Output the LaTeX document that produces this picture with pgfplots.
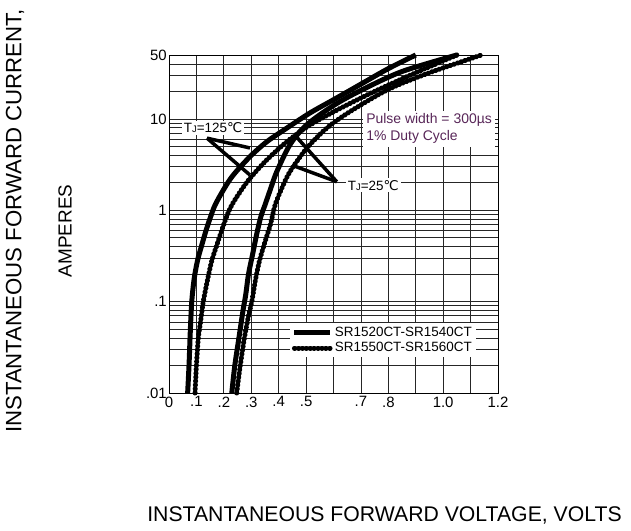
\documentclass[border=0pt]{standalone}
\usepackage{fontspec}
\setmainfont{Liberation Sans}
\newfontfamily\dejavu{DejaVu Sans}
\usepackage{pgfplots}
\pgfplotsset{compat=1.18}
\definecolor{pulsecol}{RGB}{88,38,88}
\newcommand{\degC}{{\dejavu ℃}}
\newcommand{\TJ}{T{\fontsize{9.5}{9.5}\selectfont J}}

\begin{document}
\begin{tikzpicture}
\path[use as bounding box] (0,0) rectangle (631bp,-531bp);
\begin{axis}[
  at={(169bp,-393bp)}, anchor=south west,
  scale only axis, width=329bp, height=338bp,
  xmin=0, xmax=1.2, ymin=0.01, ymax=50, ymode=log,
  clip=false,
  xtick={0,0.1,0.2,0.3,0.4,0.5,0.6,0.7,0.8,0.9,1.0,1.1,1.2},
  xticklabels={0,.1,.2,.3,.4,.5,,.7,.8,,1.0,,1.2},
  ytick={0.01,0.1,1,10,50},
  yticklabels={.01,.1,1,10,50},
  minor ytick={0.02,0.03,0.04,0.05,0.06,0.07,0.08,0.09,0.2,0.3,0.4,0.5,0.6,0.7,0.8,0.9,2,3,4,5,6,7,8,9,20,30,40},
  grid=both,
  major grid style={black!85, line width=0.7bp},
  minor grid style={black!85, line width=0.7bp},
  major tick length=0pt, minor tick length=0pt,
  axis line style={black, line width=0.8bp},
  tick label style={font=\fontsize{15}{15}\selectfont},
  xticklabel style={inner sep=1bp, yshift=-2.5bp},
  yticklabel style={inner sep=2bp},
  legend style={at={(axis description cs:0.367,0.207)}, anchor=north west,
    draw=none, fill=white, font=\fontsize{13.5}{13.5}\selectfont,
    inner sep=2bp, row sep=0.5bp,
    /tikz/every even column/.append style={column sep=3bp}},
  legend cell align=left,
  legend image code/.code={\draw[#1] (0bp,0bp) -- (36bp,0bp);},
]
% TJ = 125 C, SR1520CT-SR1540CT
\addplot[black, line width=5bp, line join=round, smooth] coordinates {
 (0.068,0.01) (0.073,0.02) (0.078,0.05) (0.083,0.1) (0.092,0.18) (0.105,0.29)
 (0.12,0.42) (0.135,0.6) (0.15,0.82) (0.168,1.14) (0.2,1.7) (0.233,2.4)
 (0.295,3.85) (0.356,5.6) (0.429,7.9) (0.514,11.6) (0.6,16.2) (0.7,24)
 (0.8,35.5) (0.9,50)};
\addlegendentry{SR1520CT-SR1540CT}
% TJ = 125 C, SR1550CT-SR1560CT
\addplot[black, line width=5bp, line cap=round, dash pattern=on 0.5bp off 3.4bp, smooth] coordinates {
 (0.095,0.01) (0.1,0.02) (0.107,0.04) (0.115,0.06) (0.125,0.1) (0.14,0.17)
 (0.156,0.28) (0.175,0.42) (0.192,0.6) (0.21,0.85) (0.229,1.14) (0.26,1.6)
 (0.295,2.23) (0.356,3.54) (0.429,5.6) (0.514,8.55) (0.624,13) (0.75,20)
 (0.9,32) (1.05,50)};
\addlegendentry{SR1550CT-SR1560CT}
% TJ = 25 C, SR1520CT-SR1540CT
\addplot[black, line width=5bp, line join=round, smooth] coordinates {
 (0.229,0.01) (0.24,0.02) (0.255,0.04) (0.27,0.08) (0.28,0.12) (0.29,0.2)
 (0.305,0.33) (0.32,0.55) (0.335,0.85) (0.35,1.14) (0.37,1.7) (0.393,2.64)
 (0.441,5.2) (0.5,8.5) (0.6,14) (0.7,20.5) (0.85,33) (1.05,50)};
% TJ = 25 C, SR1550CT-SR1560CT
\addplot[black, line width=5bp, line cap=round, dash pattern=on 0.5bp off 3.4bp, smooth] coordinates {
 (0.247,0.01) (0.26,0.02) (0.275,0.04) (0.29,0.07) (0.302,0.1) (0.315,0.17)
 (0.33,0.28) (0.35,0.45) (0.37,0.7) (0.387,1.14) (0.41,1.7) (0.441,2.64)
 (0.502,4.75) (0.575,7.9) (0.66,12) (0.8,21) (0.95,32) (1.14,50)};

% annotations
\node[fill=white, inner sep=1.5bp, font=\fontsize{13.5}{13.5}\selectfont]
  at (axis description cs:0.134,0.784) {\TJ=125\degC};
\draw[line width=3.5bp] (axis description cs:0.1155,0.754) -- (axis description cs:0.246,0.725);
\draw[line width=3.5bp] (axis description cs:0.1155,0.754) -- (axis description cs:0.246,0.645);
\node[fill=white, inner sep=2bp, font=\fontsize{13.5}{13.5}\selectfont]
  at (axis description cs:0.621,0.615) {\TJ=25\degC};
\draw[line width=3.5bp] (axis description cs:0.510,0.625) -- (axis description cs:0.388,0.757);
\draw[line width=3.5bp] (axis description cs:0.510,0.625) -- (axis description cs:0.374,0.674);
\node[fill=white, inner sep=3bp, anchor=west, align=left, text=pulsecol,
  font=\fontsize{14}{17}\selectfont]
  at (axis description cs:0.59,0.782) {Pulse width = 300µs\\1\% Duty Cycle};
\end{axis}
\node[font=\fontsize{21.3}{21.3}\selectfont] at (384.5bp,-515bp) {INSTANTANEOUS FORWARD VOLTAGE, VOLTS};
\node[rotate=90, font=\fontsize{22.3}{22.3}\selectfont] at (15bp,-221bp) {INSTANTANEOUS FORWARD CURRENT,};
\node[rotate=90, font=\fontsize{19}{19}\selectfont] at (65bp,-231bp) {AMPERES};
\end{tikzpicture}
\end{document}
